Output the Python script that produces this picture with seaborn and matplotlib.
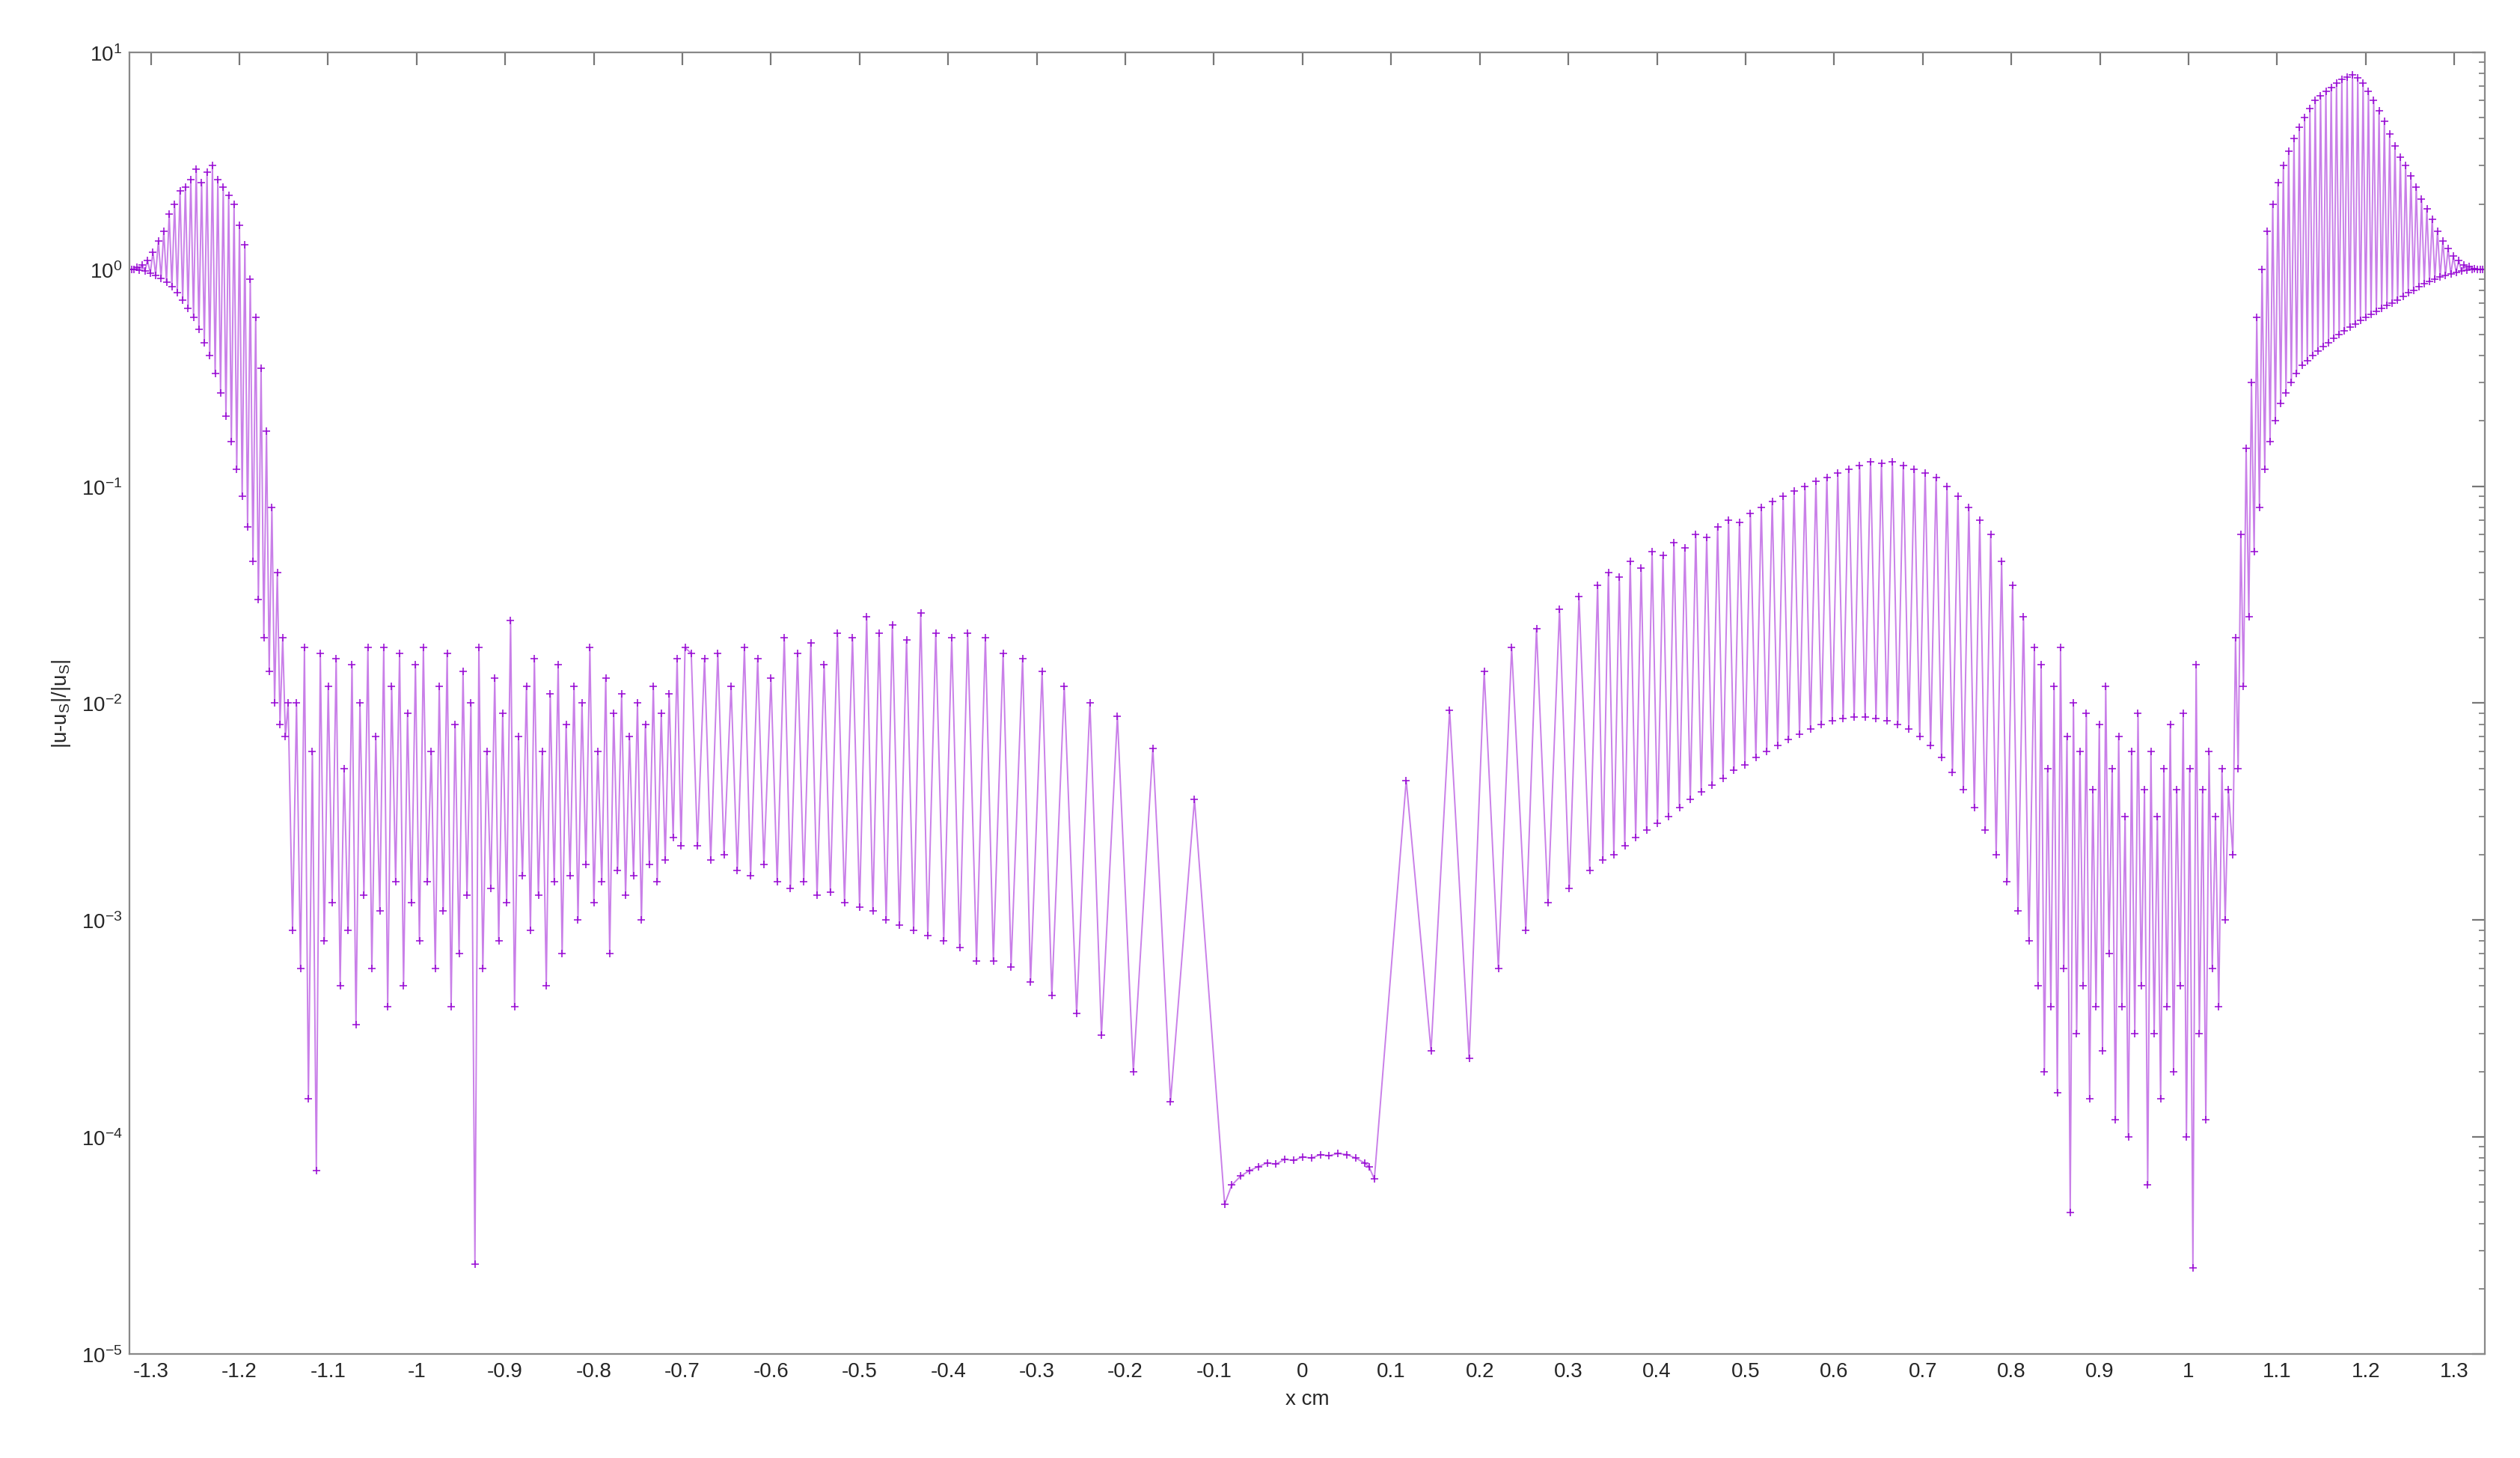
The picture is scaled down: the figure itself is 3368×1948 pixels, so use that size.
import numpy as np
import pandas as pd
import matplotlib
matplotlib.use("Agg")
import matplotlib.pyplot as plt
import seaborn as sns
from matplotlib.ticker import LogLocator, MultipleLocator, FormatStrFormatter

# ---- data (trough / peak pairs per region) ----
# left hump, -1.325 .. -1.145
left_troughs = [1.0, 1.0, 0.99, 0.98, 0.96, 0.94, 0.91, 0.87, 0.83, 0.78, 0.72, 0.66, 0.6, 0.53, 0.46,
                0.4, 0.33, 0.27, 0.21, 0.16, 0.12, 0.09, 0.065, 0.045, 0.03, 0.02, 0.014, 0.01, 0.008, 0.007]
left_peaks = [1.0, 1.02, 1.05, 1.1, 1.2, 1.35, 1.5, 1.8, 2.0, 2.3, 2.4, 2.6, 2.9, 2.5, 2.8,
              3.0, 2.6, 2.4, 2.2, 2.0, 1.6, 1.3, 0.9, 0.6, 0.35, 0.18, 0.08, 0.04, 0.02, 0.01]

# noisy band, -1.14 .. -0.695
noisy_l_troughs = [9e-4, 6e-4, 1.5e-4, 7e-5, 8e-4, 1.2e-3, 5e-4, 9e-4, 3.3e-4, 1.3e-3, 6e-4, 1.1e-3, 4e-4,
                   1.5e-3, 5e-4, 1.2e-3, 8e-4, 1.5e-3, 6e-4, 1.1e-3, 4e-4, 7e-4, 1.3e-3, 2.6e-5, 6e-4,
                   1.4e-3, 8e-4, 1.2e-3, 4e-4, 1.6e-3, 9e-4, 1.3e-3, 5e-4, 1.5e-3, 7e-4, 1.6e-3, 1.0e-3,
                   1.8e-3, 1.2e-3, 1.5e-3, 7e-4, 1.7e-3, 1.3e-3, 1.6e-3, 1.0e-3, 1.8e-3, 1.5e-3, 1.9e-3,
                   2.4e-3, 2.2e-3]
noisy_l_peaks = [0.01, 0.018, 0.006, 0.017, 0.012, 0.016, 0.005, 0.015, 0.01, 0.018, 0.007, 0.018, 0.012,
                 0.017, 0.009, 0.015, 0.018, 0.006, 0.012, 0.017, 0.008, 0.014, 0.01, 0.018, 0.006, 0.013,
                 0.009, 0.024, 0.007, 0.012, 0.016, 0.006, 0.011, 0.015, 0.008, 0.012, 0.01, 0.018, 0.006,
                 0.013, 0.009, 0.011, 0.007, 0.01, 0.008, 0.012, 0.009, 0.011, 0.016, 0.018]

# regular spikes, -0.69 .. -0.12
spike_l_x = [-0.69, -0.675, -0.66, -0.645, -0.63, -0.615, -0.60, -0.585, -0.57, -0.555, -0.54, -0.525,
             -0.508, -0.492, -0.478, -0.463, -0.447, -0.431, -0.414, -0.396, -0.378, -0.358, -0.338,
             -0.316, -0.294, -0.269, -0.240, -0.209, -0.169, -0.122]
spike_l_y = [0.017, 0.016, 0.017, 0.012, 0.018, 0.016, 0.013, 0.02, 0.017, 0.019, 0.015, 0.021, 0.02,
             0.025, 0.021, 0.023, 0.0195, 0.026, 0.021, 0.02, 0.021, 0.02, 0.017, 0.016, 0.014, 0.012,
             0.010, 0.0087, 0.0062, 0.0036]
dip_l_x = [-0.683, -0.668, -0.653, -0.638, -0.623, -0.608, -0.593, -0.578, -0.563, -0.548, -0.533,
           -0.517, -0.50, -0.485, -0.47, -0.455, -0.439, -0.423, -0.405, -0.387, -0.368, -0.349, -0.329,
           -0.307, -0.283, -0.255, -0.227, -0.191, -0.149]
dip_l_y = [2.2e-3, 1.9e-3, 2.0e-3, 1.7e-3, 1.6e-3, 1.8e-3, 1.5e-3, 1.4e-3, 1.5e-3, 1.3e-3, 1.35e-3,
           1.2e-3, 1.15e-3, 1.1e-3, 1.0e-3, 9.5e-4, 9e-4, 8.5e-4, 8e-4, 7.5e-4, 6.5e-4, 6.5e-4, 6.1e-4,
           5.2e-4, 4.5e-4, 3.7e-4, 2.95e-4, 2.0e-4, 1.46e-4]

# flat centre
centre_x = [-0.088, -0.08, -0.07, -0.06, -0.05, -0.04, -0.03, -0.02, -0.01, 0.0, 0.01, 0.02, 0.03,
            0.04, 0.05, 0.06, 0.07, 0.075, 0.081]
centre_y = [4.9e-5, 6.0e-5, 6.6e-5, 7.0e-5, 7.3e-5, 7.6e-5, 7.5e-5, 7.9e-5, 7.8e-5, 8.1e-5, 8.0e-5,
            8.3e-5, 8.2e-5, 8.4e-5, 8.3e-5, 8.0e-5, 7.6e-5, 7.3e-5, 6.4e-5]

# first right spikes, 0.117 .. 0.333
spike_r_x = [0.117, 0.145, 0.166, 0.188, 0.205, 0.221, 0.236, 0.252, 0.264, 0.277, 0.290, 0.301,
             0.312, 0.324, 0.333]
spike_r_y = [4.4e-3, 2.5e-4, 9.3e-3, 2.3e-4, 1.4e-2, 6.0e-4, 1.8e-2, 9.0e-4, 2.2e-2, 1.2e-3, 2.7e-2,
             1.4e-3, 3.1e-2, 1.7e-3, 3.5e-2]

# rising arch, 0.339 .. 0.825
arch_troughs = [1.9e-3, 2.0e-3, 2.2e-3, 2.4e-3, 2.6e-3, 2.8e-3, 3.0e-3, 3.3e-3, 3.6e-3, 3.9e-3, 4.2e-3,
                4.5e-3, 4.9e-3, 5.2e-3, 5.6e-3, 6.0e-3, 6.4e-3, 6.8e-3, 7.2e-3, 7.6e-3, 8.0e-3, 8.3e-3,
                8.5e-3, 8.6e-3, 8.6e-3, 8.5e-3, 8.3e-3, 8.0e-3, 7.6e-3, 7.0e-3, 6.4e-3, 5.6e-3, 4.8e-3,
                4.0e-3, 3.3e-3, 2.6e-3, 2.0e-3, 1.5e-3, 1.1e-3, 8e-4]
arch_peaks = [0.04, 0.038, 0.045, 0.042, 0.05, 0.048, 0.055, 0.052, 0.06, 0.058, 0.065, 0.07, 0.068,
              0.075, 0.08, 0.085, 0.09, 0.095, 0.1, 0.105, 0.11, 0.115, 0.12, 0.125, 0.13, 0.128, 0.13,
              0.125, 0.12, 0.115, 0.11, 0.1, 0.09, 0.08, 0.07, 0.06, 0.045, 0.035, 0.025, 0.018]

# noisy band, 0.83 .. 1.045
noisy_r_troughs = [5e-4, 2e-4, 4e-4, 1.6e-4, 6e-4, 4.5e-5, 3e-4, 5e-4, 1.5e-4, 4e-4, 2.5e-4, 7e-4,
                   1.2e-4, 4e-4, 1e-4, 3e-4, 5e-4, 6e-5, 3e-4, 1.5e-4, 4e-4, 2e-4, 5e-4, 1e-4, 2.5e-5,
                   3e-4, 1.2e-4, 6e-4, 4e-4, 1e-3]
noisy_r_peaks = [0.015, 0.005, 0.012, 0.018, 0.007, 0.01, 0.006, 0.009, 0.004, 0.008, 0.012, 0.005,
                 0.007, 0.003, 0.006, 0.009, 0.004, 0.006, 0.003, 0.005, 0.008, 0.004, 0.009, 0.005,
                 0.015, 0.004, 0.006, 0.003, 0.005, 0.004]

# right hump, 1.05 .. 1.335
right_troughs = [2e-3, 5e-3, 0.012, 0.025, 0.05, 0.08, 0.12, 0.16, 0.2, 0.24, 0.27, 0.3, 0.33, 0.36,
                 0.38, 0.4, 0.42, 0.44, 0.46, 0.48, 0.5, 0.52, 0.54, 0.56, 0.58, 0.6, 0.62, 0.64, 0.66,
                 0.68, 0.7, 0.72, 0.75, 0.78, 0.8, 0.83, 0.86, 0.88, 0.9, 0.92, 0.94, 0.95, 0.97, 0.98,
                 0.99, 1.0, 1.0, 1.0]
right_peaks = [0.02, 0.06, 0.15, 0.3, 0.6, 1.0, 1.5, 2.0, 2.5, 3.0, 3.5, 4.0, 4.5, 5.0, 5.5, 6.0, 6.3,
               6.6, 6.9, 7.2, 7.5, 7.7, 7.9, 7.6, 7.2, 6.6, 6.0, 5.4, 4.8, 4.2, 3.7, 3.3, 3.0, 2.7, 2.4,
               2.1, 1.9, 1.7, 1.5, 1.35, 1.25, 1.15, 1.1, 1.05, 1.03, 1.01, 1.0, 1.0]


def zigzag(x0, x1, lows, highs):
    vals = np.ravel(np.column_stack([lows, highs]))
    return np.linspace(x0, x1, len(vals)), vals


def interleave(px, py, dx, dy):
    xs, ys = [], []
    for i in range(len(px)):
        xs.append(px[i]); ys.append(py[i])
        if i < len(dx):
            xs.append(dx[i]); ys.append(dy[i])
    return xs, ys


parts = [
    zigzag(-1.325, -1.145, left_troughs, left_peaks),
    zigzag(-1.14, -0.697, noisy_l_troughs, noisy_l_peaks),
    interleave(spike_l_x, spike_l_y, dip_l_x, dip_l_y),
    (centre_x, centre_y),
    (spike_r_x, spike_r_y),
    zigzag(0.339, 0.826, arch_troughs, arch_peaks),
    zigzag(0.83, 1.045, noisy_r_troughs, noisy_r_peaks),
    zigzag(1.05, 1.335, right_troughs, right_peaks),
]
x = np.concatenate([np.asarray(p[0], float) for p in parts])
y = np.concatenate([np.asarray(p[1], float) for p in parts])
df = pd.DataFrame({"x": x, "err": y})

# ---- plot ----
sns.set_style("white")
plt.rcParams['font.family'] = ['Liberation Sans', 'DejaVu Sans']

fig = plt.figure(figsize=(16.84, 9.745), dpi=200)
ax = fig.add_axes([0.0514, 0.0713, 0.9345, 0.8923])

sns.lineplot(data=df, x="x", y="err", ax=ax, sort=False, estimator=None,
             color="#9400d3", linewidth=0.7, alpha=0.5)
sns.scatterplot(data=df, x="x", y="err", ax=ax, color="#9400d3", marker="+",
                s=14, linewidth=0.6, alpha=0.9)

ax.set_yscale("log")
ax.set_ylim(1e-5, 10)
ax.set_xlim(-1.324, 1.334)
ax.xaxis.set_major_locator(MultipleLocator(0.1))
ax.xaxis.set_major_formatter(FormatStrFormatter('%g'))
ax.yaxis.set_major_locator(LogLocator(base=10))
ax.yaxis.set_minor_locator(LogLocator(base=10, subs=np.arange(2, 10)))
ax.tick_params(which='both', direction='in', top=True, right=True, labelsize=10, color='#777777')
ax.tick_params(which='major', length=6)
ax.tick_params(which='minor', length=3)
for s in ax.spines.values():
    s.set_color('#888888')
    s.set_linewidth(0.8)

ax.set_xlabel("x cm", fontsize=10)
ax.set_ylabel(r"|u-u$_\mathregular{S}$|/|u$_\mathregular{S}$|", fontsize=10, labelpad=4)

fig.savefig("out.png", dpi=200)
